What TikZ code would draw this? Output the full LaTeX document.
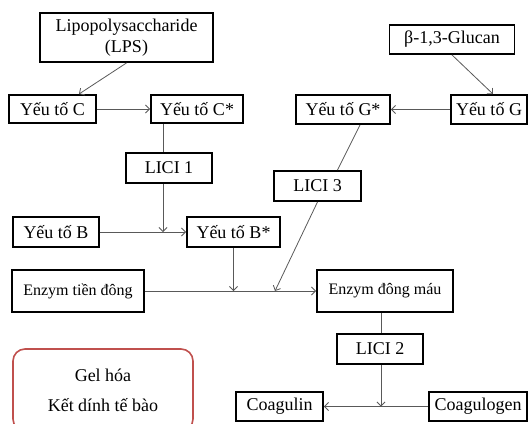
\documentclass[tikz,border=0pt]{standalone}
\usepackage{fontspec}
\setmainfont{Liberation Serif}
\usetikzlibrary{arrows.meta}
\definecolor{gelred}{RGB}{192,80,77}

\begin{document}
\begin{tikzpicture}[x=1pt, y=-1pt,
		box/.style={draw=black, line width=1.9pt, text=black, shape=rectangle, inner sep=0pt, font=\fontsize{18}{21}\selectfont},
		enzbox/.style={box, font=\fontsize{16}{19}\selectfont},
		lin/.style={draw=black!65, line width=0.8pt},
		arr/.style={lin, -{Straight Barb[length=4pt,width=8pt]}}]
	\useasboundingbox (0,0) rectangle (530,423);

	\node[box, align=center, minimum width=173pt, minimum height=49pt] (lps) at (126.5,37.5) {Lipopolysaccharide\\(LPS)};
	\node[box, minimum width=87pt, minimum height=28pt] (yc) at (52.5,109) {Yếu tố C};
	\node[box, minimum width=92pt, minimum height=28pt] (ycs) at (197,109) {Yếu tố C*};
	\node[box, minimum width=125pt, minimum height=29pt] (glu) at (452,39.5) {β-1,3-Glucan};
	\node[box, minimum width=94pt, minimum height=29pt] (ygs) at (343,109.5) {Yếu tố G*};
	\node[box, minimum width=76pt, minimum height=29pt] (yg) at (489,109.5) {Yếu tố G};

	\node[box, minimum width=86pt, minimum height=30pt] (lici1) at (169,168) {LICI 1};
	\node[box, minimum width=87pt, minimum height=30pt] (lici3) at (317.5,186) {LICI 3};
	\node[box, minimum width=86pt, minimum height=30pt] (yb) at (56,232) {Yếu tố B};
	\node[box, minimum width=93pt, minimum height=30pt] (ybs) at (233.5,232) {Yếu tố B*};

	\node[enzbox, minimum width=132pt, minimum height=42pt] (enz1) at (78,291) {Enzym tiền đông};
	\node[enzbox, minimum width=136pt, minimum height=42pt] (enz2) at (385,291) {Enzym đông máu};
	\node[box, minimum width=86pt, minimum height=30pt] (lici2) at (380,349) {LICI 2};
	\node[box, minimum width=87pt, minimum height=29pt] (cg) at (279.5,406.5) {Coagulin};
	\node[box, minimum width=98pt, minimum height=29pt] (cgn) at (478,406.5) {Coagulogen};

	\node[box, draw=gelred, line width=1.6pt, rounded corners=12pt, align=center, font=\fontsize{18}{30}\selectfont, minimum width=180pt, minimum height=82pt] (gel) at (103,390) {Gel hóa\\Kết dính tế bào};

	% points where the side arrows meet a line
	\coordinate (b1) at (163,232);
	\coordinate (e1) at (233.5,291);
	\coordinate (e2) at (275,291);
	\coordinate (c1) at (381,406.5);

	\draw[arr] (lps.south) -- ([xshift=-18pt]yc.north east);
	\draw[arr] (yc.east) -- (ycs.west);
	\draw[lin] (b1 |- ycs.south) -- (b1 |- lici1.north);
	\draw[arr] (b1 |- lici1.south) -- (b1);
	\draw[arr] (yb.east) -- (ybs.west);
	\draw[arr] (ybs.south) -- (e1);

	\draw[arr] (glu.south) -- ([xshift=4pt]yg.north);
	\draw[arr] (yg.west) -- (ygs.east);
	\draw[lin] ([xshift=17pt]ygs.south) -- ([xshift=20pt]lici3.north);
	\draw[arr] (lici3.south) -- (e2);

	\draw[arr] (enz1.east) -- (enz2.west);
	\draw[lin] (c1 |- enz2.south) -- (c1 |- lici2.north);
	\draw[arr] (c1 |- lici2.south) -- (c1);
	\draw[arr] (cgn.west) -- (cg.east);
\end{tikzpicture}
\end{document}
